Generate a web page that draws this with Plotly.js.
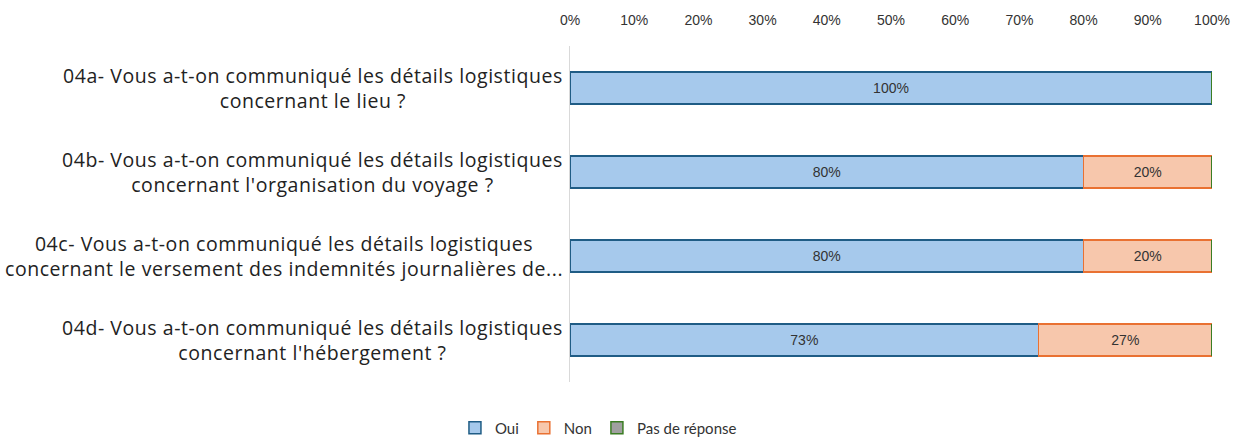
<!DOCTYPE html>
<html>
<head>
<meta charset="utf-8">
<script src="https://cdn.plot.ly/plotly-3.0.1.min.js"></script>
<style>html,body{margin:0;padding:0;background:#fff;}#chart{width:1252px;height:439px;}
.annotation-text{letter-spacing:0.55px;}</style>
</head>
<body>
<div id="chart"></div>
<script>
const categories = ["04a", "04b", "04c", "04d"];
const categoryLabels = [
  "04a- Vous a-t-on communiqué les détails logistiques<br>concernant le lieu ?",
  "04b- Vous a-t-on communiqué les détails logistiques<br>concernant l'organisation du voyage ?",
  "04c- Vous a-t-on communiqué les détails logistiques<br>concernant le versement des indemnités journalières de...",
  "04d- Vous a-t-on communiqué les détails logistiques<br>concernant l'hébergement ?"
];
const oui = [100, 80, 80, 73];
const non = [0, 20, 20, 27];
const pasDeReponse = [0, 0, 0, 0];
const tickValues = [0, 10, 20, 30, 40, 50, 60, 70, 80, 90, 100];
const tickLabels = ["0%", "10%", "20%", "30%", "40%", "50%", "60%", "70%", "80%", "90%", "100%"];

const labelFont = {family: "Liberation Sans, Arial, sans-serif", size: 14, color: "#333333"};

const traces = [
  {
    type: "bar", orientation: "h", name: "Oui", y: categories, x: oui,
    marker: {color: "#a6c9ec", line: {color: "#1f5c85", width: 1.5}},
    text: oui.map(v => v > 0 ? v + "%" : ""), textposition: "inside", insidetextanchor: "middle",
    textfont: labelFont, hoverinfo: "x+name"
  },
  {
    type: "bar", orientation: "h", name: "Non", y: categories, x: non,
    marker: {color: "#f7c7ac", line: {color: "#e97132", width: 1.5}},
    text: non.map(v => v > 0 ? v + "%" : ""), textposition: "inside", insidetextanchor: "middle",
    textfont: labelFont, hoverinfo: "x+name"
  },
  {
    type: "bar", orientation: "h", name: "Pas de réponse", y: categories, x: pasDeReponse,
    marker: {color: "#a0a0a0", line: {color: "#3b7d23", width: 1.5}},
    textposition: "none", hoverinfo: "x+name"
  }
];

const annotations = categories.map((c, i) => ({
  xref: "paper", yref: "y", x: 0, y: c, xanchor: "right", yanchor: "middle",
  xshift: -5, text: categoryLabels[i], showarrow: false, align: "center",
  font: {family: "Open Sans, Noto Sans, sans-serif", size: 19.5, color: "#222222"}
}));

const layout = {
  width: 1252, height: 439,
  margin: {l: 570, r: 40, t: 46, b: 57},
  barmode: "stack",
  bargap: 0.62,
  paper_bgcolor: "#ffffff", plot_bgcolor: "#ffffff",
  showlegend: true,
  xaxis: {
    side: "top", range: [0, 100], tickvals: tickValues, ticktext: tickLabels,
    showgrid: false, zeroline: false, showline: false, ticks: "",
    tickfont: {family: "Liberation Sans, Arial, sans-serif", size: 14, color: "#333333"},
    ticklabelstandoff: 17, fixedrange: true
  },
  yaxis: {
    type: "category", categoryorder: "array", categoryarray: categories,
    autorange: "reversed", showticklabels: false, ticks: "",
    showline: true, linecolor: "#d9d9d9", linewidth: 1.5,
    showgrid: false, zeroline: false, fixedrange: true
  },
  legend: {
    orientation: "h", xref: "container", yref: "container",
    x: 0.478, y: 0.025, xanchor: "center", yanchor: "middle",
    font: {family: "Lato, sans-serif", size: 15, color: "#333333"},
    itemwidth: 30, tracegroupgap: 0, traceorder: "normal"
  },
  annotations: annotations
};

Plotly.newPlot("chart", traces, layout, {displayModeBar: false, staticPlot: true});
</script>
</body>
</html>
